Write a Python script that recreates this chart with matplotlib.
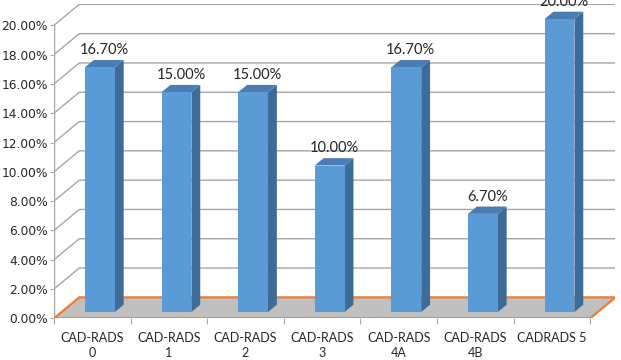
import numpy as np
import matplotlib.pyplot as plt
from matplotlib.patches import Polygon

plt.rcParams['font.family'] = ['Lato', 'DejaVu Sans']

categories = ['CAD-RADS\n0', 'CAD-RADS\n1', 'CAD-RADS\n2', 'CAD-RADS\n3',
              'CAD-RADS\n4A', 'CAD-RADS\n4B', 'CADRADS 5']
values = [16.7, 15.0, 15.0, 10.0, 16.7, 6.7, 20.0]
labels = ['16.70%', '15.00%', '15.00%', '10.00%', '16.70%', '6.70%', '20.00%']
yticks = np.arange(0, 21, 2)

# fake 3d depth, in data units (x: categories, y: percent)
dx, dy = 0.33, 1.43
d0, d1 = 0.30, 0.65     # bar depth range (fraction of floor depth)
bar_w = 0.39

front_c = '#5b9bd5'
side_c = '#3e6c99'
top_c = '#4a7db4'
grid_c = '#a6a6a6'
txt_c = '#262626'

n = len(values)
fig = plt.figure(figsize=(6.21, 3.6), dpi=100)
ax = fig.add_axes([54 / 621, 41.7 / 360, (n + dx) * 76.6 / 621, (20 + dy) * 14.65 / 360])
ax.set_xlim(0, n + dx)
ax.set_ylim(0, 20 + dy)
for s in ax.spines.values():
    s.set_visible(False)

# walls: gridlines on the side and back
for v in yticks[1:]:
    ax.plot([0, dx, n + dx], [v, v + dy, v + dy], color=grid_c, lw=1, zorder=1)
ax.plot([0, 0], [0, 20], color=grid_c, lw=1, zorder=1)

# floor
floor = Polygon([(0, 0), (n, 0), (n + dx, dy), (dx, dy)], closed=True,
                facecolor='#c0c0c0', edgecolor='#ed7d31', lw=1.6, zorder=2)
ax.add_patch(floor)

# bars
for i, v in enumerate(values):
    x0 = i + 0.5 - bar_w / 2 + d0 * dx
    y0 = d0 * dy
    x1 = x0 + bar_w
    ex, ey = (d1 - d0) * dx, (d1 - d0) * dy
    ax.add_patch(Polygon([(x0, y0), (x1, y0), (x1, y0 + v), (x0, y0 + v)],
                         facecolor=front_c, edgecolor='none', zorder=4))
    ax.add_patch(Polygon([(x1, y0), (x1 + ex, y0 + ey), (x1 + ex, y0 + ey + v), (x1, y0 + v)],
                         facecolor=side_c, edgecolor='none', zorder=3))
    ax.add_patch(Polygon([(x0, y0 + v), (x1, y0 + v), (x1 + ex, y0 + v + ey), (x0 + ex, y0 + v + ey)],
                         facecolor=top_c, edgecolor='none', zorder=3))
    ax.annotate(labels[i], (x0 + bar_w / 2 + ex / 2, y0 + v + ey), xytext=(0, 2),
                textcoords='offset points', ha='center', va='bottom',
                fontsize=10.5, color=txt_c, zorder=5, annotation_clip=False)

ax.set_yticks(yticks)
ax.set_yticklabels([f'{v:.2f}%' for v in yticks], family=['DejaVu Sans'])
ax.tick_params(axis='y', length=3, color=grid_c, pad=1.5, labelsize=8.8, labelcolor=txt_c)
ax.set_xticks(np.arange(n + 1))
ax.set_xticklabels([])
ax.set_xticks(np.arange(n) + 0.5, minor=True)
ax.set_xticklabels(categories, minor=True, linespacing=1.3)
ax.tick_params(axis='x', which='major', length=4, color=grid_c)
ax.tick_params(axis='x', which='minor', length=0, pad=10, labelsize=9, labelcolor=txt_c)

fig.savefig('out.png', dpi=100)
